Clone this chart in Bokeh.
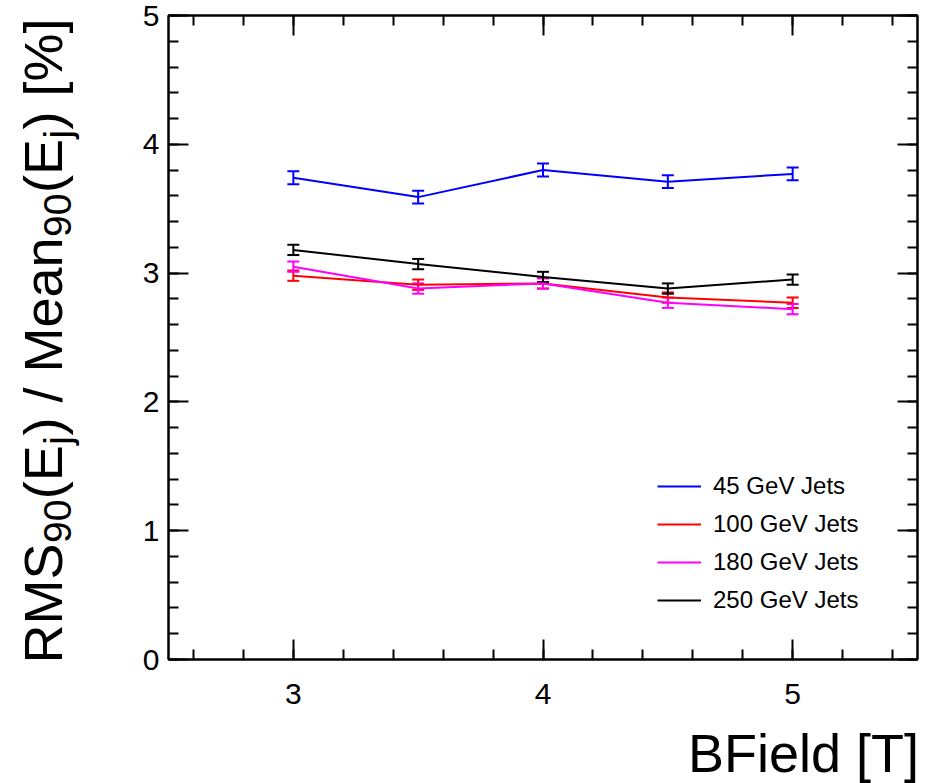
import math
from bokeh.plotting import figure
from bokeh.layouts import row
from bokeh.core.properties import value
from bokeh.models import (ColumnDataSource, Whisker, TeeHead, Legend, LegendItem,
                          LinearAxis, SingleIntervalTicker, Range1d)
from bokeh.embed import file_html
from bokeh.resources import INLINE

# ---------------- data ----------------
bfield = [3.0, 3.5, 4.0, 4.5, 5.0]
series_names = ["45 GeV Jets", "100 GeV Jets", "180 GeV Jets", "250 GeV Jets"]
series_colors = ["#0000ff", "#ff0000", "#ff00ff", "#000000"]
res_45 = [3.74, 3.59, 3.80, 3.71, 3.77]
err_45 = [0.05, 0.05, 0.05, 0.05, 0.05]
res_100 = [2.98, 2.91, 2.92, 2.81, 2.77]
err_100 = [0.04, 0.04, 0.04, 0.04, 0.04]
res_180 = [3.05, 2.88, 2.92, 2.77, 2.72]
err_180 = [0.04, 0.04, 0.04, 0.04, 0.04]
res_250 = [3.18, 3.07, 2.97, 2.88, 2.95]
err_250 = [0.04, 0.04, 0.04, 0.04, 0.04]
x_title = "BField [T]"
# y title pieces: (text, is_subscript)
y_title_parts = [("RMS", False), ("90", True), ("(E", False), ("j", True),
                 (") / Mean", False), ("90", True), ("(E", False), ("j", True),
                 (") [%]", False)]

FONT = "Liberation Sans"
TOTAL_H = 783
LEFT_W = 88

# ---------------- main plot ----------------
p = figure(frame_width=749, frame_height=644,
           x_range=Range1d(2.5, 5.5), y_range=Range1d(0, 5),
           output_backend="svg", toolbar_location=None,
           min_border_left=168 - LEFT_W, min_border_right=13,
           min_border_top=15, min_border_bottom=124)
p.xgrid.visible = False
p.ygrid.visible = False
p.outline_line_color = "black"
p.outline_line_width = 2
p.background_fill_color = "white"
p.border_fill_color = "white"

p.xaxis.ticker = SingleIntervalTicker(interval=1, num_minor_ticks=5)
p.yaxis.ticker = SingleIntervalTicker(interval=1, num_minor_ticks=5)


def style_axis(ax, show_labels):
    ax.axis_line_width = 2
    ax.axis_line_color = "black"
    ax.major_tick_in = 20
    ax.major_tick_out = 0
    ax.minor_tick_in = 10
    ax.minor_tick_out = 0
    ax.major_tick_line_width = 2
    ax.minor_tick_line_width = 2
    ax.major_tick_line_color = "black"
    ax.minor_tick_line_color = "black"
    ax.major_label_text_font = FONT
    ax.major_label_text_color = "black"
    if show_labels:
        ax.major_label_text_font_size = "30px"
    else:
        ax.major_label_text_font_size = "0px"
        ax.major_label_standoff = 0


# x title: centred axis label padded on the left with no-break spaces so that
# the visible words end at the right edge of the frame
x_title_padded = "\u00a0" * 34 + "\u2009" + x_title
for ax in p.xaxis:
    style_axis(ax, True)
    ax.major_label_standoff = 24
    ax.axis_label = x_title_padded
    ax.axis_label_text_font = FONT
    ax.axis_label_text_font_size = "54px"
    ax.axis_label_text_font_style = "normal"
    ax.axis_label_text_color = "black"
    ax.axis_label_standoff = 16
for ax in p.yaxis:
    style_axis(ax, True)
    ax.major_label_standoff = 9

top_ax = LinearAxis(ticker=SingleIntervalTicker(interval=1, num_minor_ticks=5))
right_ax = LinearAxis(ticker=SingleIntervalTicker(interval=1, num_minor_ticks=5))
style_axis(top_ax, False)
style_axis(right_ax, False)
p.add_layout(top_ax, "above")
p.add_layout(right_ax, "right")

# ---------------- series ----------------
all_res = [res_45, res_100, res_180, res_250]
all_err = [err_45, err_100, err_180, err_250]
items = []
for name, col, ys, es in zip(series_names, series_colors, all_res, all_err):
    src = ColumnDataSource(dict(x=bfield, y=ys,
                                upper=[a + b for a, b in zip(ys, es)],
                                lower=[a - b for a, b in zip(ys, es)]))
    r = p.line("x", "y", source=src, line_color=col, line_width=2)
    w = Whisker(base="x", upper="upper", lower="lower", source=src,
                line_color=col, line_width=2,
                upper_head=TeeHead(size=12, line_color=col, line_width=2),
                lower_head=TeeHead(size=12, line_color=col, line_width=2))
    p.add_layout(w)
    items.append(LegendItem(label=name, renderers=[r]))

legend = Legend(items=items, location=(489, 40), padding=0, margin=0,
                border_line_color=None, background_fill_alpha=0,
                label_text_font=FONT, label_text_font_size="24px",
                label_text_color="black",
                glyph_width=44, glyph_height=38, label_height=38,
                label_standoff=12, spacing=0)
p.add_layout(legend)

# ---------------- y title panel (left) ----------------
q = figure(frame_width=LEFT_W, frame_height=TOTAL_H,
           x_range=Range1d(0, LEFT_W), y_range=Range1d(0, TOTAL_H),
           output_backend="svg", toolbar_location=None,
           min_border=0, x_axis_location=None, y_axis_location=None)
q.xgrid.visible = False
q.ygrid.visible = False
q.outline_line_color = None
q.background_fill_color = "white"
q.border_fill_color = "white"

W = {'R': 722, 'M': 833, 'S': 667, '9': 556, '0': 556, '(': 333, 'E': 667,
     'j': 222, ')': 333, ' ': 278, '/': 278, 'e': 556, 'a': 556, 'n': 556,
     '[': 278, '%': 889, ']': 278}
f_main = 54.0
f_sub = 39.0
base_x = 66          # wanted baseline
sub_shift = 8        # subscript drop
dx_frac = 0.43       # renderer offset correction (perpendicular)
pos = 135.0          # start of the title along the panel
main_x, main_y, main_t = [], [], []
sub_x, sub_y, sub_t = [], [], []
for txt, sub in y_title_parts:
    fs = f_sub if sub else f_main
    xx = base_x + (sub_shift if sub else 0) - dx_frac * fs
    if sub:
        sub_x.append(xx); sub_y.append(pos); sub_t.append(txt)
    else:
        main_x.append(xx); main_y.append(pos); main_t.append(txt)
    pos += sum(W[c] for c in txt) / 1000.0 * fs + 0.5

q.text(x=main_x, y=main_y, text=main_t, angle=math.pi / 2,
       text_align="left", text_baseline="alphabetic",
       text_font=value(FONT), text_font_size=value(f"{f_main}px"),
       text_color="black")
q.text(x=sub_x, y=sub_y, text=sub_t, angle=math.pi / 2,
       text_align="left", text_baseline="alphabetic",
       text_font=value(FONT), text_font_size=value(f"{f_sub}px"),
       text_color="black")

layout = row(q, p, spacing=0)
open("out.html", "w").write(file_html(layout, INLINE))
